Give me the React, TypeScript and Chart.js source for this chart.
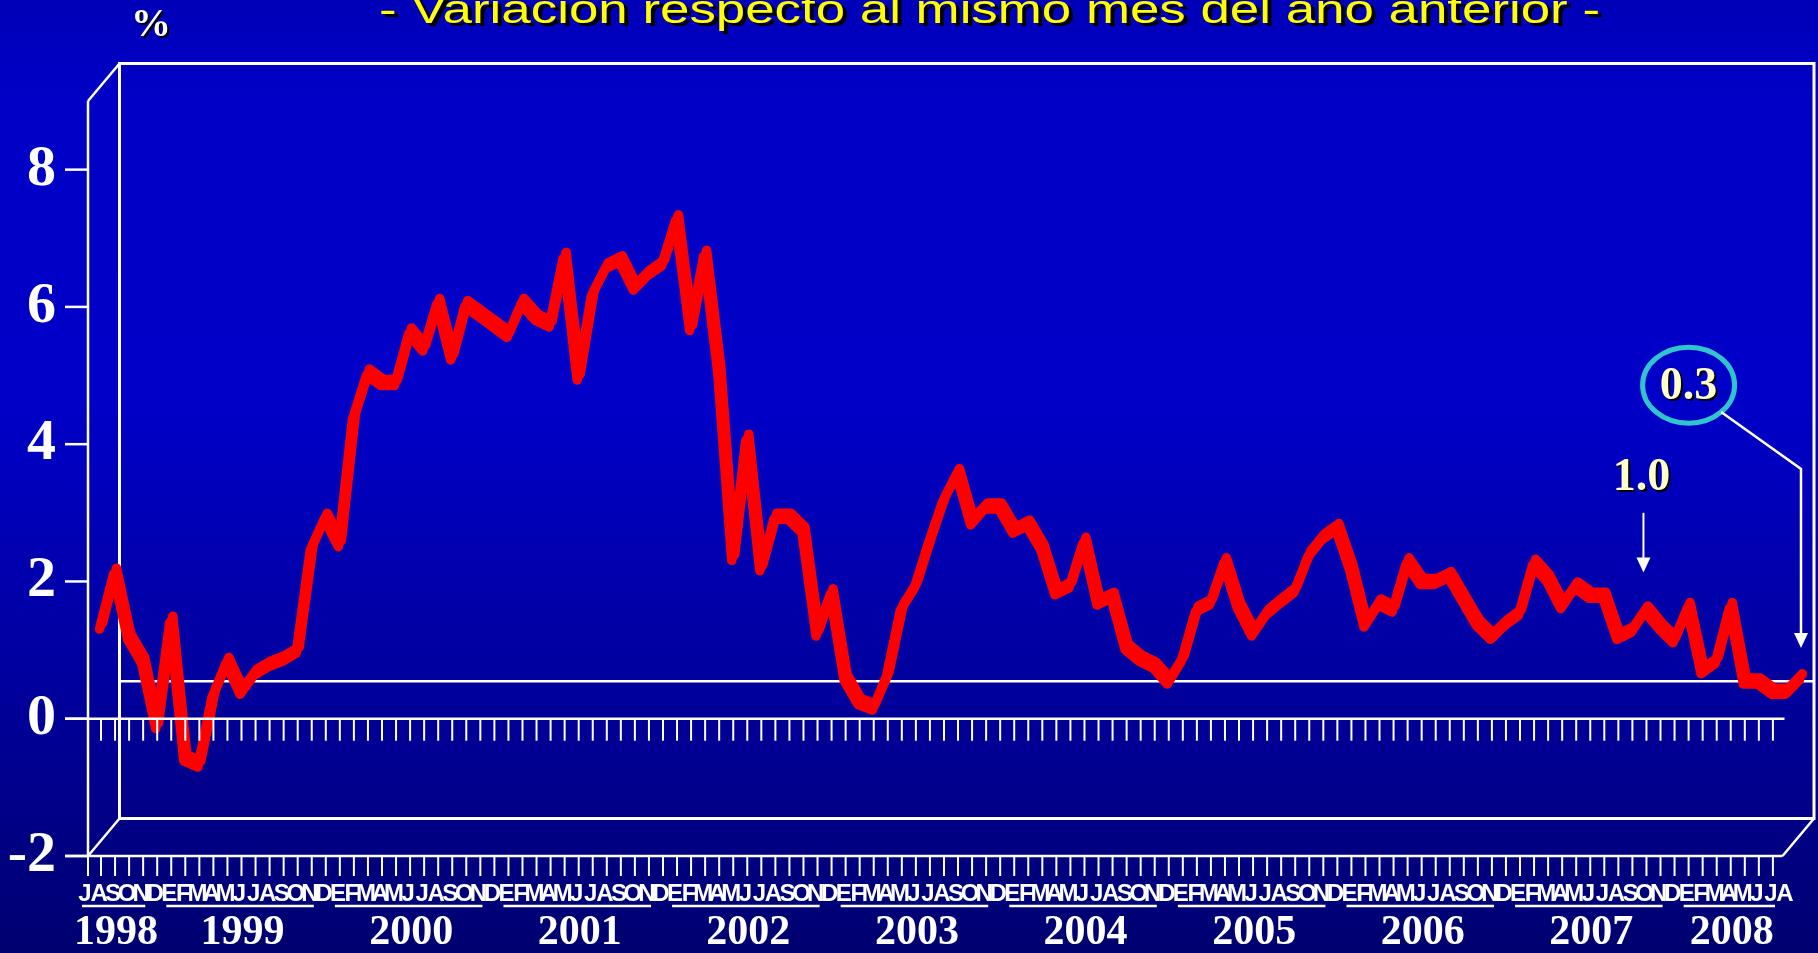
import React, { useEffect, useRef } from "react";
import { Chart, registerables } from "chart.js";

Chart.register(...registerables);

// ---------------- Data ----------------
const titleText = "- Variación respecto al mismo mes del año anterior -";
const unitText = "%";

const monthLabels1998 = ["J", "A", "S", "O", "N", "D"];
const monthLabelsYear = ["E", "F", "M", "A", "M", "J", "J", "A", "S", "O", "N", "D"];
const monthLabels2008 = ["E", "F", "M", "A", "M", "J", "J", "A"];
const yearLabels = ["1998", "1999", "2000", "2001", "2002", "2003", "2004", "2005", "2006", "2007", "2008"];

const values1998 = [1.07, 1.87, 0.92, 0.57, -0.38, 1.17];
const values1999 = [-0.85, -0.94, 0.07, 0.57, 0.12, 0.4, 0.52, 0.6, 0.72, 2.22, 2.67, 2.27];
const values2000 = [4.12, 4.77, 4.62, 4.62, 5.37, 5.12, 5.8, 4.99, 5.77, 5.62, 5.47, 5.32];
const values2001 = [5.8, 5.57, 5.47, 6.47, 4.7, 5.92, 6.32, 6.42, 6.01, 6.22, 6.36, 7.02];
const values2002 = [5.42, 6.5, 4.82, 2.07, 3.82, 1.92, 2.67, 2.67, 2.47, 0.97, 1.57, 0.32];
const values2003 = [-0.03, -0.11, 0.37, 1.34, 1.67, 2.32, 2.92, 3.32, 2.59, 2.82, 2.82, 2.47];
const values2004 = [2.57, 2.22, 1.57, 1.67, 2.32, 1.42, 1.52, 0.77, 0.6, 0.5, 0.27, 0.6];
const values2005 = [1.32, 1.42, 2.02, 1.37, 0.97, 1.27, 1.44, 1.6, 2.12, 2.37, 2.52, 1.92];
const values2006 = [1.1, 1.42, 1.32, 2.02, 1.72, 1.72, 1.82, 1.47, 1.12, 0.92, 1.12, 1.27];
const values2007 = [2.0, 1.77, 1.37, 1.67, 1.52, 1.52, 0.92, 1.02, 1.32, 1.07, 0.87, 1.37];
const values2008 = [0.42, 0.57, 1.37, 0.27, 0.27, 0.12, 0.12, 0.33];

const yTickValues = [-2, 0, 2, 4, 6, 8];
const Y_MIN = -2;
const Y_MAX = 9;

const annotationLast = "0.3";
const annotationMid = "1.0";

// ---------------- Derived ----------------
const valuesByYear = [values1998, values1999, values2000, values2001, values2002, values2003,
  values2004, values2005, values2006, values2007, values2008];
const labelsByYear = [monthLabels1998, ...Array(9).fill(monthLabelsYear), monthLabels2008];
const monthLabels: string[] = labelsByYear.flat();
const allValues: number[] = valuesByYear.flat();
const LAST = allValues.length - 1;

// 3D look: the series sits half way into the depth of the box
const SERIES_DEPTH = 0.28; // value units
// ribbon edges (pixel skew of the two edges of the 3D ribbon)
const RIBBON_BACK: [number, number] = [1.5, -3];
const RIBBON_FRONT: [number, number] = [-1.5, 3];

const DEPTH_X = 31.5;
const DEPTH_Y = 37.5;
const FRONT_INSET = 13;
const LABEL_SHIFT = -16;

const WHITE = "#FFFFFF";
const SERIF = "'Liberation Serif', 'Times New Roman', serif";
const NARROW = "'Liberation Sans Narrow', 'Arial Narrow', 'Liberation Sans', Arial, sans-serif";

function seg(ctx: CanvasRenderingContext2D, x1: number, y1: number, x2: number, y2: number, w = 2.5) {
  ctx.beginPath();
  ctx.lineWidth = w;
  ctx.strokeStyle = WHITE;
  ctx.moveTo(x1, y1);
  ctx.lineTo(x2, y2);
  ctx.stroke();
}

function shadowText(ctx: CanvasRenderingContext2D, t: string, x: number, y: number, color: string, dx: number, dy: number) {
  ctx.fillStyle = "#000000";
  ctx.fillText(t, x + dx, y + dy);
  ctx.fillStyle = color;
  ctx.fillText(t, x, y);
}

function arrowHead(ctx: CanvasRenderingContext2D, x: number, tipY: number, len: number, half: number) {
  ctx.beginPath();
  ctx.fillStyle = WHITE;
  ctx.moveTo(x, tipY);
  ctx.lineTo(x - half, tipY - len);
  ctx.lineTo(x + half, tipY - len);
  ctx.closePath();
  ctx.fill();
}

const ribbonPlugin = {
  id: "ribbon",
  beforeDatasetDraw(chart: any, args: any) {
    const off = args.index === 0 ? RIBBON_BACK : RIBBON_FRONT;
    chart.ctx.save();
    chart.ctx.translate(off[0], off[1]);
  },
  afterDatasetDraw(chart: any) {
    chart.ctx.restore();
  },
};

const boxPlugin = {
  id: "box3d",
  beforeDraw(chart: any) {
    const { ctx, width, height, chartArea } = chart;
    const ys = chart.scales.y;
    ctx.save();
    const g = ctx.createLinearGradient(0, 0, 0, height);
    g.addColorStop(0, "#0000B8");
    g.addColorStop(0.1, "#0000C6");
    g.addColorStop(0.42, "#0000C8");
    g.addColorStop(0.7, "#0000A0");
    g.addColorStop(0.85, "#000088");
    g.addColorStop(1, "#000070");
    ctx.fillStyle = g;
    ctx.fillRect(0, 0, width, height);

    const frontLeft = chartArea.left - FRONT_INSET;
    const backLeft = frontLeft + DEPTH_X;
    const backRight = chartArea.right + FRONT_INSET;
    const backTop = ys.getPixelForValue(Y_MAX) - DEPTH_Y;
    const backBottom = ys.getPixelForValue(Y_MIN) - DEPTH_Y;
    const backZero = ys.getPixelForValue(0) - DEPTH_Y;
    ctx.lineJoin = "miter";
    ctx.beginPath();
    ctx.lineWidth = 3;
    ctx.strokeStyle = WHITE;
    ctx.rect(backLeft, backTop, backRight - backLeft, backBottom - backTop);
    ctx.stroke();
    seg(ctx, backLeft, backZero, backRight, backZero, 2.5);
    ctx.restore();
  },
  afterDatasetsDraw(chart: any) {
    const { ctx, chartArea } = chart;
    const ys = chart.scales.y;
    const xs = chart.scales.x;
    ctx.save();
    const frontLeft = chartArea.left - FRONT_INSET;
    const backLeft = frontLeft + DEPTH_X;
    const backRight = chartArea.right + FRONT_INSET;
    const frontRight = backRight - DEPTH_X;
    const top = ys.getPixelForValue(Y_MAX);
    const bottom = ys.getPixelForValue(Y_MIN);
    const zero = ys.getPixelForValue(0);
    const stubLeft = frontLeft - 23;

    // left face and floor
    seg(ctx, frontLeft, top, frontLeft, bottom, 2.5);
    seg(ctx, frontLeft, top, backLeft, top - DEPTH_Y, 2.5);
    seg(ctx, frontLeft, bottom, backLeft, bottom - DEPTH_Y, 2.5);
    seg(ctx, stubLeft, bottom, frontRight, bottom, 2.5);
    seg(ctx, frontRight, bottom, backRight, bottom - DEPTH_Y, 2.5);
    seg(ctx, stubLeft, zero, frontRight + 2, zero, 2.5);
    for (const v of yTickValues) {
      const y = ys.getPixelForValue(v);
      seg(ctx, stubLeft, y, frontLeft, y, 2.5);
    }
    // category tick marks (front zero line and floor)
    seg(ctx, frontLeft, bottom, frontLeft, bottom + 20, 2);
    for (let i = 0; i < monthLabels.length; i++) {
      const x = xs.getPixelForValue(i);
      if (x > frontRight + 3) break;
      seg(ctx, x, zero, x, zero + 22, 2);
      seg(ctx, x, bottom, x, bottom + 20, 2);
    }

    // year labels with underlines
    let start = 0;
    ctx.font = `bold 42px ${SERIF}`;
    ctx.textAlign = "center";
    ctx.textBaseline = "middle";
    yearLabels.forEach((yl, k) => {
      const n = labelsByYear[k].length;
      const s = xs.getPixelForValue(start) + LABEL_SHIFT;
      const e = xs.getPixelForValue(start + n - 1) + LABEL_SHIFT;
      seg(ctx, s - 3, 906, e - 10, 906, 2.5);
      ctx.fillStyle = WHITE;
      ctx.fillText(yl, (s + e) / 2 - 4, 933);
      start += n;
    });

    // unit label
    ctx.font = `bold 40px ${SERIF}`;
    shadowText(ctx, unitText, 151, 26, WHITE, 2, 2);

    // title (horizontally stretched like the original)
    ctx.font = `40px 'Liberation Sans', Arial, sans-serif`;
    ctx.textBaseline = "alphabetic";
    const w = ctx.measureText(titleText).width;
    const sx = 1221 / w;
    ctx.save();
    ctx.translate(989.5, 23);
    ctx.scale(sx, 1);
    ctx.fillStyle = "#000000";
    ctx.fillText(titleText, 4 / sx, 3);
    ctx.fillStyle = "#FFFF00";
    ctx.fillText(titleText, 0, 0);
    ctx.restore();

    // "1.0" annotation with arrow
    const midX = xs.getPixelForValue(110) - 3;
    ctx.font = `bold 46px ${SERIF}`;
    ctx.textBaseline = "middle";
    shadowText(ctx, annotationMid, midX - 2, ys.getPixelForValue(3.51), "#FFFFCC", 2, 2);
    const aTop = ys.getPixelForValue(3.0);
    const aTip = ys.getPixelForValue(2.13);
    seg(ctx, midX, aTop, midX, aTip - 10, 2);
    arrowHead(ctx, midX, aTip, 15, 7);

    // "0.3" annotation: ellipse + connector to the last point
    const cx = xs.getPixelForValue(113);
    const cy = ys.getPixelForValue(4.86);
    ctx.beginPath();
    ctx.lineWidth = 5;
    ctx.strokeStyle = "#30C4CC";
    ctx.ellipse(cx, cy, 46, 38, 0, 0, Math.PI * 2);
    ctx.stroke();
    shadowText(ctx, annotationLast, cx, cy + 2, "#FFFFCC", 2, 2);
    const lx = xs.getPixelForValue(LAST);
    const elbowY = ys.getPixelForValue(3.64);
    const tipY = ys.getPixelForValue(1.03);
    ctx.beginPath();
    ctx.lineWidth = 2.5;
    ctx.strokeStyle = WHITE;
    ctx.moveTo(cx + 46 * Math.SQRT1_2, cy + 38 * Math.SQRT1_2);
    ctx.lineTo(lx, elbowY);
    ctx.lineTo(lx, tipY - 10);
    ctx.stroke();
    arrowHead(ctx, lx, tipY, 15, 7);
    ctx.restore();
  },
};

export default function App() {
  const ref = useRef<HTMLCanvasElement>(null);
  useEffect(() => {
    document.body.style.margin = "0";
    const canvas = ref.current;
    if (!canvas) return;
    const ribbon = {
      borderColor: "#FF0000",
      backgroundColor: "#FF0000",
      borderWidth: 9.5,
      pointRadius: 0,
      pointHoverRadius: 0,
      borderJoinStyle: "round" as const,
      borderCapStyle: "round" as const,
      tension: 0,
      fill: false,
      clip: false as const,
      xAxisID: "x",
      yAxisID: "ys",
      data: allValues,
    };
    const chart = new Chart(canvas, {
      type: "line",
      data: {
        labels: monthLabels,
        datasets: [
          { ...ribbon, label: "back" },
          { ...ribbon, label: "front" },
        ],
      },
      options: {
        responsive: false,
        maintainAspectRatio: false,
        animation: false,
        events: [],
        layout: { padding: { left: 0, top: 101, right: 17, bottom: 0 } },
        plugins: { legend: { display: false }, tooltip: { enabled: false }, title: { display: false } },
        scales: {
          x: {
            type: "category",
            offset: false,
            grid: { display: false, drawTicks: false },
            border: { display: false },
            ticks: {
              color: WHITE,
              font: { family: NARROW, size: 24, weight: "bold" },
              autoSkip: false,
              maxRotation: 0,
              minRotation: 0,
              labelOffset: LABEL_SHIFT,
              padding: 24,
            },
            afterFit: (s: any) => {
              s.height = 97;
              s.paddingLeft = 0;
              s.paddingRight = 0;
            },
          },
          y: {
            type: "linear",
            min: Y_MIN,
            max: Y_MAX,
            grid: { display: false, drawTicks: false },
            border: { display: false },
            afterBuildTicks: (s: any) => {
              s.ticks = yTickValues.map((value) => ({ value }));
            },
            ticks: {
              color: WHITE,
              font: { family: SERIF, size: 58, weight: "bold" },
              padding: 45,
              autoSkip: false,
            },
            afterFit: (s: any) => {
              s.width = 101;
            },
          },
          ys: {
            type: "linear",
            display: false,
            min: Y_MIN - SERIES_DEPTH,
            max: Y_MAX - SERIES_DEPTH,
          },
        },
      } as any,
      plugins: [boxPlugin, ribbonPlugin],
    });
    return () => chart.destroy();
  }, []);
  return (
    <div style={{ position: "fixed", left: 0, top: 0, width: 1818, height: 953, overflow: "hidden" }}>
      <canvas ref={ref} width={1818} height={953} style={{ display: "block", width: 1818, height: 953 }} />
    </div>
  );
}
